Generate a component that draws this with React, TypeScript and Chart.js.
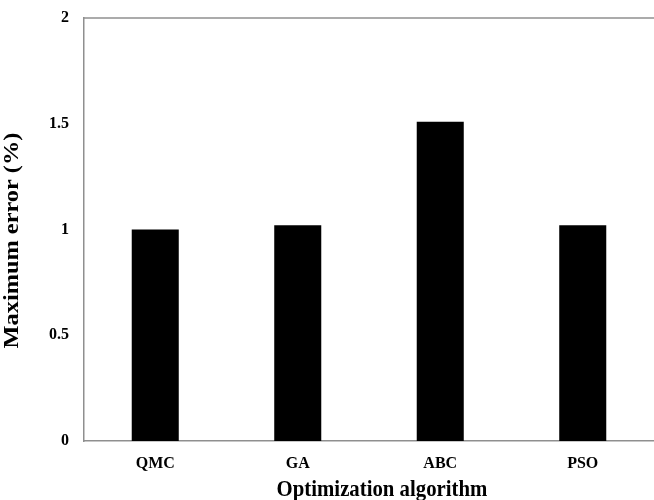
import React, { useEffect, useRef } from "react";
import { Chart, registerables } from "chart.js";

Chart.register(...registerables);

const categories = ["QMC", "GA", "ABC", "PSO"];
const maxError = [1.0, 1.02, 1.51, 1.02];
const yTicks = [0, 0.5, 1, 1.5, 2];
const xTitle = "Optimization algorithm";
const yTitle = "Maximum error (%)";

const FONT = "'Times New Roman', 'Liberation Serif', serif";
const AXIS_COLOR = "#8f8f8f";

const titlePlugin = {
  id: "customTitles",
  afterDraw(chart: any) {
    const { ctx, chartArea } = chart;
    ctx.save();
    // top border line of plot area
    ctx.strokeStyle = AXIS_COLOR;
    ctx.lineWidth = 1.5;
    ctx.beginPath();
    ctx.moveTo(chartArea.left, chartArea.top);
    ctx.lineTo(chartArea.right, chartArea.top);
    ctx.stroke();

    ctx.fillStyle = "#000";
    ctx.font = `bold 20.8px ${FONT}`;
    ctx.textAlign = "center";
    ctx.textBaseline = "alphabetic";
    const cx = (chartArea.left + chartArea.right) / 2 + 13;
    ctx.save();
    ctx.translate(cx, chartArea.bottom + 54.5);
    ctx.scale(1, 1.15);
    ctx.fillText(xTitle, 0, 0);
    ctx.restore();

    const cy = (chartArea.top + chartArea.bottom) / 2 + 11;
    ctx.translate(18.3, cy);
    ctx.rotate(-Math.PI / 2);
    ctx.scale(1.17, 1);
    ctx.fillText(yTitle, 0, 0);
    ctx.restore();
  },
};

export default function App() {
  const ref = useRef<HTMLCanvasElement | null>(null);

  useEffect(() => {
    if (!ref.current) return;
    const chart = new Chart(ref.current, {
      type: "bar",
      data: {
        labels: categories,
        datasets: [
          {
            data: maxError,
            backgroundColor: "#000000",
            borderColor: "#000000",
            borderWidth: 0,
            barPercentage: 0.33,
            categoryPercentage: 1,
          },
        ],
      },
      options: {
        responsive: false,
        maintainAspectRatio: false,
        animation: false,
        layout: { padding: { top: 18, right: 0, left: 0, bottom: 0 } },
        plugins: {
          legend: { display: false },
          tooltip: { enabled: false },
          title: { display: false },
        },
        scales: {
          x: {
            grid: { display: false, drawTicks: false },
            border: { display: true, color: AXIS_COLOR, width: 1.5 },
            ticks: {
              color: "#000",
              font: { family: FONT, size: 16, weight: "bold" },
              padding: 13,
              maxRotation: 0,
            },
            afterFit(scale: any) {
              scale.height = 59;
              scale.paddingLeft = 0;
              scale.paddingRight = 0;
            },
          },
          y: {
            min: 0,
            max: 2,
            afterBuildTicks(scale: any) {
              scale.ticks = yTicks.map((v) => ({ value: v }));
            },
            grid: { display: false, drawTicks: false },
            border: { display: true, color: AXIS_COLOR, width: 1.5 },
            ticks: {
              color: "#000",
              font: { family: FONT, size: 16, weight: "bold" },
              padding: 15,
              callback: (v: any) => String(Number(v)),
            },
            afterFit(scale: any) {
              scale.width = 84;
              scale.paddingTop = 0;
              scale.paddingBottom = 0;
            },
          },
        },
      },
      plugins: [titlePlugin],
    });
    return () => chart.destroy();
  }, []);

  return (
    <div style={{ position: "absolute", left: 0, top: 0, width: 654, height: 500, background: "#fff" }}>
      <canvas ref={ref} width={654} height={500} style={{ display: "block" }} />
    </div>
  );
}
